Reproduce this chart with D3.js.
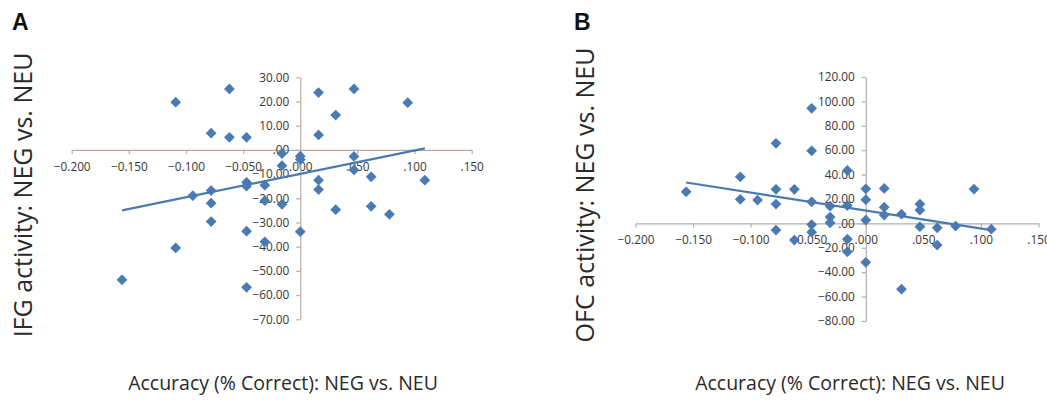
<!DOCTYPE html>
<html>
<head>
<meta charset="utf-8">
<script src="https://cdn.jsdelivr.net/npm/d3@7"></script>
<style>
  body { margin: 0; background: #fff; }
  .tick text { font-family: "Open Sans", sans-serif; font-size: 11.8px; fill: #363636; }
  .title { font-family: "Open Sans", sans-serif; fill: #2a2a2a; }
  .panel { font-family: "Liberation Sans", Arial, sans-serif; font-weight: bold; font-size: 23px; fill: #111; }
</style>
</head>
<body>
<svg id="chart"></svg>
<script>
// Chart data
let xTicks = [-0.2, -0.15, -0.1, -0.05, 0, 0.05, 0.1, 0.15];
let yTicksA = [30, 20, 10, 0, -10, -20, -30, -40, -50, -60, -70];
let yTicksB = [120, 100, 80, 60, 40, 20, 0, -20, -40, -60, -80];

// Panel A: accuracy vs IFG activity
let accA = [-0.156, -0.109, -0.109, -0.094, -0.078, -0.078, -0.078, -0.078,
    -0.062, -0.062, -0.047, -0.047, -0.047, -0.047, -0.047,
    -0.031, -0.031, -0.031, -0.016, -0.016, -0.016, 0.0, 0.0, 0.0,
    0.016, 0.016, 0.016, 0.016, 0.031, 0.031, 0.047, 0.047, 0.047,
    0.062, 0.062, 0.078, 0.094, 0.109];
let ifgA = [-53.7, 19.7, -40.5, -18.9, 6.9, -16.8, -22.0, -29.6,
    25.2, 5.2, 5.2, -13.4, -15.0, -33.6, -56.8,
    -14.6, -21.0, -38.0, -1.5, -6.5, -22.5, -2.6, -4.0, -33.8,
    23.7, 6.2, -12.5, -16.4, 14.4, -24.7, 25.2, -2.7, -8.3,
    -11.1, -23.3, -26.6, 19.5, -12.5];
let trendA = [[-0.156, -25.0], [0.109, 0.6]];

// Panel B: accuracy vs OFC activity
let accB = [-0.156, -0.109, -0.109, -0.094, -0.078, -0.078, -0.078, -0.078,
    -0.062, -0.062, -0.047, -0.047, -0.047, -0.047, -0.047,
    -0.031, -0.031, -0.031, -0.016, -0.016, -0.016, -0.016,
    0.0, 0.0, 0.0, 0.0, 0.016, 0.016, 0.016, 0.031, 0.031,
    0.047, 0.047, 0.047, 0.062, 0.062, 0.078, 0.094, 0.109];
let ofcB = [25.9, 38.2, 19.7, 19.1, 65.6, 27.9, 15.8, -5.5,
    27.9, -13.7, 94.3, 59.5, 17.7, -1.0, -7.2,
    14.1, 5.2, 0.5, 43.4, 14.6, -13.0, -23.3,
    28.3, 19.4, 2.7, -31.9, 28.7, 13.3, 6.8, 7.6, -53.9,
    15.8, 10.9, -2.7, -3.6, -17.8, -2.2, 28.1, -4.7];
let trendB = [[-0.156, 33.5], [0.109, -5.5]];

let svgWidth = 1047;
let svgHeight = 400;

let svg = d3.select("#chart")
    .attr("width", svgWidth)
    .attr("height", svgHeight);

let blue = "#4a7ab2";
let axisColor = "#b8ada4";

// strip the leading zero the way the original axis labels do ("-.050", ".00")
function noLeadZero(spec) {
    let f = d3.format(spec);
    return d => f(d).replace(/^(-?)0\./, "$1.");
}

function drawPanel(opts) {
    let x = d3.scaleLinear().domain([-0.2, 0.15]).range(opts.xRange);
    let y = d3.scaleLinear().domain(opts.yDomain).range(opts.yRange);

    let g = svg.append("g");

    // x axis sits on y = 0
    g.append("g")
        .attr("transform", `translate(0, ${y(0)})`)
        .call(d3.axisBottom(x).tickValues(xTicks).tickSize(4).tickSizeOuter(0)
            .tickPadding(8.5).tickFormat(noLeadZero(".3f")));

    // y axis sits on x = 0
    g.append("g")
        .attr("transform", `translate(${x(0)}, 0)`)
        .call(d3.axisLeft(y).tickValues(opts.yTicks).tickSize(4).tickSizeOuter(0)
            .tickPadding(7).tickFormat(noLeadZero(".2f")));

    g.selectAll(".domain, .tick line").attr("stroke", axisColor).attr("stroke-width", 1.2);

    // linear trendline
    g.append("path")
        .datum(opts.trend)
        .attr("fill", "none")
        .attr("stroke", blue)
        .attr("stroke-width", 2.2)
        .attr("d", d3.line().x(d => x(d[0])).y(d => y(d[1])));

    // diamond markers
    let pts = opts.xs.map((v, i) => [v, opts.ys[i]]);
    g.append("g")
        .selectAll("path")
        .data(pts)
        .join("path")
        .attr("d", d3.symbol().type(d3.symbolSquare).size(58))
        .attr("transform", d => `translate(${x(d[0])}, ${y(d[1])}) rotate(45)`)
        .attr("fill", blue);

    // panel letter
    svg.append("text")
        .attr("class", "panel")
        .attr("x", opts.letterX)
        .attr("y", 30)
        .text(opts.letter);

    // axis titles
    svg.append("text")
        .attr("class", "title")
        .attr("text-anchor", "middle")
        .attr("transform", `translate(${opts.yTitleX}, 195) rotate(-90)`)
        .attr("dy", "0.35em")
        .style("font-size", "25px")
        .text(opts.yTitle);

    svg.append("text")
        .attr("class", "title")
        .attr("text-anchor", "middle")
        .attr("x", opts.xTitleX)
        .attr("y", 390)
        .style("font-size", "19.5px")
        .text("Accuracy (% Correct): NEG vs. NEU");
}

drawPanel({
    letter: "A", letterX: 12,
    xRange: [71.7, 471.7], yDomain: [-70, 30], yRange: [319.3, 77.3],
    yTicks: yTicksA, xs: accA, ys: ifgA, trend: trendA,
    yTitle: "IFG activity: NEG vs. NEU", yTitleX: 23, xTitleX: 283
});

drawPanel({
    letter: "B", letterX: 574,
    xRange: [635.5, 1038.5], yDomain: [-80, 120], yRange: [321, 77],
    yTicks: yTicksB, xs: accB, ys: ofcB, trend: trendB,
    yTitle: "OFC activity: NEG vs. NEU", yTitleX: 585, xTitleX: 850
});
</script>
</body>
</html>
